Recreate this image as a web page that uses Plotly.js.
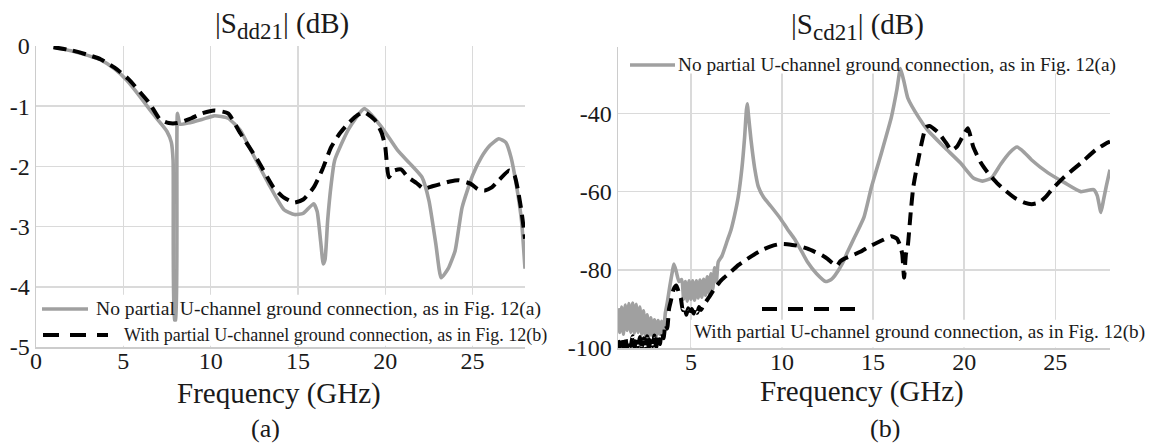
<!DOCTYPE html>
<html>
<head>
<meta charset="utf-8">
<script src="https://cdn.plot.ly/plotly-3.0.1.min.js"></script>
<style>html,body{margin:0;padding:0;background:#fff;}#chart{width:1153px;height:446px;}</style>
</head>
<body>
<div id="chart"></div>
<script>
// ---------- (a) |Sdd21| ----------
const freqA_noGround = [1, 2, 3, 3.7, 4.5, 5.2, 5.9, 6.55, 7.1, 7.5, 7.75, 7.85, 7.93, 8.0, 8.1, 8.25, 8.7, 9.5, 10.2, 11, 11.7, 12.3, 13.3, 14.2, 14.8, 15.3, 15.9, 16.1, 16.3, 16.45, 16.55, 16.7, 16.9, 17.1, 17.9, 18.8, 19.8, 20.7, 21.4, 22.1, 22.5, 22.9, 23.2, 23.6, 24.0, 24.4, 25.0, 25.5, 26.0, 26.5, 26.9, 27.2, 27.5, 27.8, 28];
const sdd21_noGround = [-0.02, -0.08, -0.16, -0.23, -0.38, -0.57, -0.82, -1.07, -1.27, -1.42, -1.6, -1.9, -4.55, -4.55, -1.12, -1.3, -1.28, -1.22, -1.16, -1.2, -1.4, -1.73, -2.28, -2.72, -2.8, -2.78, -2.62, -2.75, -3.25, -3.62, -3.55, -2.9, -2.3, -1.9, -1.38, -1.04, -1.35, -1.73, -1.95, -2.18, -2.57, -3.3, -3.85, -3.7, -3.4, -2.68, -2.15, -1.85, -1.65, -1.54, -1.6, -1.85, -2.3, -2.9, -3.7];

const freqA_withGround = [1, 2, 3, 3.7, 4.5, 5.3, 6.0, 6.5, 7.1, 7.6, 8.1, 8.9, 9.5, 10.2, 11, 11.7, 12.7, 13.6, 14.2, 14.8, 15.3, 15.9, 16.4, 16.9, 17.4, 17.9, 18.4, 18.8, 19.4, 19.8, 20.0, 20.2, 20.5, 20.9, 21.3, 21.8, 22.2, 22.7, 23.2, 23.7, 24.2, 24.9, 25.3, 25.7, 26.1, 26.5, 27.1, 27.4, 27.6, 27.8, 28];
const sdd21_withGround = [-0.02, -0.07, -0.15, -0.22, -0.36, -0.55, -0.78, -0.95, -1.22, -1.28, -1.28, -1.2, -1.12, -1.07, -1.12, -1.45, -1.9, -2.35, -2.52, -2.6, -2.55, -2.35, -2.05, -1.68, -1.45, -1.28, -1.15, -1.1, -1.23, -1.45, -1.68, -2.18, -2.07, -2.05, -2.18, -2.28, -2.37, -2.33, -2.29, -2.25, -2.23, -2.29, -2.38, -2.4, -2.35, -2.23, -2.07, -2.15, -2.4, -2.75, -3.2];

// ---------- (b) |Scd21| ----------
const freqB_noGround = [1.0,1.1,1.2,1.3,1.4,1.5,1.6,1.7,1.8,1.9,2.0,2.1,2.2,2.3,2.4,2.5,2.6,2.7,2.8,2.9,3.0,3.1,3.2,3.3,3.4,3.5,
  3.6,3.7,3.85,4.0,4.07,4.2,4.35,
  4.5,4.6,4.7,4.8,4.9,5.0,5.1,5.2,5.3,5.4,5.5,5.6,5.7,5.8,5.9,6.0,6.1,6.2,6.3,6.4,6.5,6.7,7.0,7.2,7.4,7.6,7.8,7.95,8.05,8.1,8.15,8.3,8.5,8.7,9.0,9.4,9.9,10.3,10.7,11.1,11.4,11.9,12.4,12.7,12.9,13.3,13.6,14.0,14.5,14.9,15.4,16.0,16.3,16.5,16.7,16.9,17.5,18.0,18.9,19.8,20.5,21.0,21.5,22.0,22.5,22.9,23.3,23.7,24.6,25.5,26.4,27.1,27.3,27.5,27.65,27.8,28.0];
const scd21_noGround = [-89.8,-96,-89.5,-96.5,-89,-95.5,-88.6,-96,-88.5,-96.2,-88.8,-96,-89.5,-96.5,-90.5,-96.8,-91.5,-97,-92.3,-96.8,-92.8,-97,-93,-96.5,-93.2,-95.5,
  -91,-88.5,-84,-80,-78.5,-80.5,-83,
  -82.5,-87.5,-83,-88,-82.8,-87.5,-82.8,-87.8,-82.8,-87.2,-82.6,-87,-82.4,-86.5,-81.8,-86,-81,-85,-79.5,-83,-78,-76.5,-72.5,-69.8,-66,-61.3,-54,-46,-39,-37.5,-40,-46.8,-54,-58.7,-61.5,-63.8,-66.8,-69.6,-72.2,-75.5,-78,-81,-83,-82.5,-81.5,-78.5,-75.4,-71.5,-66.5,-59,-51,-41,-34,-28.5,-32,-36,-41,-44.3,-48.6,-52.7,-56.5,-57.3,-56.5,-53,-50,-48.6,-50,-51.9,-55.2,-57.7,-60,-59.5,-61,-65.3,-62,-58.5,-54.4];

const freqB_withGround = [1.0,1.1,1.2,1.3,1.4,1.5,1.6,1.7,1.8,1.9,2.0,2.1,2.2,2.3,2.4,2.5,2.6,2.7,2.8,2.9,3.0,3.1,3.2,3.3,3.4,3.5,3.6,3.7,3.8,3.9,4.05,4.2,4.35,4.45,4.55,4.65,4.75,4.85,4.95,5.05,5.15,5.25,5.35,5.45,5.55,5.7,6.0,6.3,6.7,7.2,7.6,8.1,8.5,9.0,9.5,9.9,10.4,10.9,11.4,11.8,12.2,12.5,12.75,13.0,13.2,13.4,13.9,14.3,14.8,15.3,15.7,16.0,16.3,16.5,16.6,16.7,16.8,16.9,17.05,17.2,17.4,17.7,17.9,18.1,18.6,19.0,19.3,19.6,19.9,20.2,20.5,20.9,21.3,21.8,22.2,22.8,23.3,23.7,24.1,24.5,24.8,25.5,26.4,27.2,27.8,28.0];
const scd21_withGround = [-98,-100,-97.5,-99.8,-97.2,-100,-98,-99.5,-97,-100,-97.8,-99.6,-97.2,-100,-97.5,-99.8,-97,-100,-97.6,-99.5,-96.8,-99.8,-96.5,-99,-96,-97.5,-94,-95,-90,-88,-85,-84,-86,-87.3,-90.3,-89.5,-91.5,-89.8,-91.5,-90,-91.2,-89.8,-91,-89.5,-90.3,-89,-87,-84.8,-82.5,-80.5,-78.8,-77.2,-76,-74.7,-73.8,-73.4,-73.5,-73.9,-74.6,-75.4,-76.3,-77.2,-78.2,-79,-77.8,-77.2,-76.2,-75.4,-74,-72.9,-72,-71.4,-72,-74,-76,-82,-76,-74,-66,-59,-53.7,-46.8,-43.5,-43.2,-45,-47.5,-49.4,-48.5,-46,-43.8,-48.6,-52.5,-55.2,-57.8,-59.5,-61.7,-62.8,-63.2,-62.8,-61.2,-59.5,-56.2,-52.7,-49.4,-47.6,-47.2];

// ---------- ticks & labels ----------
const tickValsA_x = [0, 5, 10, 15, 20, 25];
const tickTextA_x = ['0', '5', '10', '15', '20', '25'];
const tickValsA_y = [0, -1, -2, -3, -4, -5];
const tickTextA_y = ['0', '-1', '-2', '-3', '-4', '-5'];
const tickValsB_x = [5, 10, 15, 20, 25];
const tickTextB_x = ['5', '10', '15', '20', '25'];
const tickValsB_y = [-40, -60, -80, -100];
const tickTextB_y = ['-40', '-60', '-80', '-100'];
const nameNo = 'No partial U-channel ground connection, as in Fig. 12(a)';
const nameWith = 'With partial U-channel ground connection, as in Fig. 12(b)';
const xAxisTitle = 'Frequency (GHz)';

const W = 1153, H = 446;
const px = v => v / W, py = v => 1 - v / H;
const FONT = 'Liberation Serif, Times New Roman, serif';
const INK = '#1a1a1a';
const GRAY = '#a0a0a0';
const GRID = '#dadada';

const grayLine = {color: GRAY, width: 3.6, shape: 'spline', smoothing: 0.5};
const blackLine = {color: '#000', width: 4, dash: '13px,7px', shape: 'spline', smoothing: 0.5};

const traces = [
  {x: freqA_noGround, y: sdd21_noGround, name: nameNo, type: 'scatter', mode: 'lines', line: grayLine, xaxis: 'x', yaxis: 'y', showlegend: false},
  {x: freqA_withGround, y: sdd21_withGround, name: nameWith, type: 'scatter', mode: 'lines', line: blackLine, xaxis: 'x', yaxis: 'y', showlegend: false},
  {x: freqB_noGround, y: scd21_noGround, name: nameNo, type: 'scatter', mode: 'lines', line: grayLine, xaxis: 'x2', yaxis: 'y2', showlegend: false},
  {x: freqB_withGround, y: scd21_withGround, name: nameWith, type: 'scatter', mode: 'lines', line: blackLine, xaxis: 'x2', yaxis: 'y2', showlegend: false}
];

const axCommon = {
  showgrid: true, gridcolor: GRID, gridwidth: 1.5, zeroline: false,
  showline: true, linecolor: '#cccccc', linewidth: 1.5, ticks: '',
  tickfont: {family: FONT, size: 24, color: INK}, automargin: false, fixedrange: true
};

const layout = {
  width: W, height: H,
  margin: {l: 0, r: 0, t: 0, b: 0},
  paper_bgcolor: '#fff', plot_bgcolor: '#fff',
  showlegend: false,
  xaxis: Object.assign({}, axCommon, {domain: [36 / W, 525 / W], range: [0, 28], tickmode: 'array', tickvals: tickValsA_x, ticktext: tickTextA_x, anchor: 'y', ticklabelstandoff: -8}),
  yaxis: Object.assign({}, axCommon, {domain: [1 - 347 / H, 1 - 46 / H], range: [-5, 0], tickmode: 'array', tickvals: tickValsA_y, ticktext: tickTextA_y, anchor: 'x'}),
  xaxis2: Object.assign({}, axCommon, {domain: [618 / W, 1110 / W], range: [1, 28], tickmode: 'array', tickvals: tickValsB_x, ticktext: tickTextB_x, anchor: 'y2', ticklabelstandoff: -8}),
  yaxis2: Object.assign({}, axCommon, {domain: [1 - 348 / H, 1 - 47 / H], range: [-100, -23], tickmode: 'array', tickvals: tickValsB_y, ticktext: tickTextB_y, anchor: 'x2'}),
  shapes: [
    // legend backgrounds, drawn between gridlines and traces
    {type: 'rect', xref: 'x', yref: 'y', x0: 0.1, x1: 28, y0: -4.98, y1: -4.13, fillcolor: '#fff', line: {width: 0}, layer: 'between'},
    {type: 'rect', xref: 'x2', yref: 'y2', x0: 5.0, x1: 28, y0: -99.9, y1: -92.8, fillcolor: '#fff', line: {width: 0}, layer: 'between'},
    {type: 'rect', xref: 'x2', yref: 'y2', x0: 1.15, x1: 28, y0: -29.8, y1: -23, fillcolor: '#fff', line: {width: 0}, layer: 'between'},
    // legend samples
    {type: 'line', xref: 'paper', yref: 'paper', x0: px(42), x1: px(88), y0: py(309), y1: py(309), line: {color: GRAY, width: 3.6}},
    {type: 'line', xref: 'paper', yref: 'paper', x0: px(43), x1: px(108), y0: py(335), y1: py(335), line: {color: '#000', width: 4, dash: '16px,11px'}},
    {type: 'line', xref: 'paper', yref: 'paper', x0: px(630), x1: px(675), y0: py(65), y1: py(65), line: {color: GRAY, width: 3.6}},
    {type: 'line', xref: 'paper', yref: 'paper', x0: px(762), x1: px(857), y0: py(309), y1: py(309), line: {color: '#000', width: 4, dash: '15px,11px'}}
  ],
  annotations: [
    {text: '|S<sub><span style="font-size:23px">dd21</span></sub>| (dB)', xref: 'paper', yref: 'paper', x: px(282), y: py(25), xanchor: 'center', yanchor: 'middle', showarrow: false, font: {family: FONT, size: 29, color: INK}},
    {text: '|S<sub><span style="font-size:23px">cd21</span></sub>| (dB)', xref: 'paper', yref: 'paper', x: px(857), y: py(27), xanchor: 'center', yanchor: 'middle', showarrow: false, font: {family: FONT, size: 29, color: INK}},
    {text: xAxisTitle, xref: 'paper', yref: 'paper', x: px(279), y: py(393), xanchor: 'center', yanchor: 'middle', showarrow: false, font: {family: FONT, size: 29, color: INK}},
    {text: xAxisTitle, xref: 'paper', yref: 'paper', x: px(862), y: py(391), xanchor: 'center', yanchor: 'middle', showarrow: false, font: {family: FONT, size: 29, color: INK}},
    {text: '(a)', xref: 'paper', yref: 'paper', x: px(265), y: py(428), xanchor: 'center', yanchor: 'middle', showarrow: false, font: {family: FONT, size: 26, color: INK}},
    {text: '(b)', xref: 'paper', yref: 'paper', x: px(885), y: py(428), xanchor: 'center', yanchor: 'middle', showarrow: false, font: {family: FONT, size: 26, color: INK}},
    {text: nameNo, xref: 'paper', yref: 'paper', x: px(94), y: py(309), xanchor: 'left', yanchor: 'middle', showarrow: false, font: {family: FONT, size: 19.6, color: INK}},
    {text: nameWith, xref: 'paper', yref: 'paper', x: px(122), y: py(335), xanchor: 'left', yanchor: 'middle', showarrow: false, font: {family: FONT, size: 18, color: INK}},
    {text: nameNo, xref: 'paper', yref: 'paper', x: px(676), y: py(65), xanchor: 'left', yanchor: 'middle', showarrow: false, font: {family: FONT, size: 19.3, color: INK}},
    {text: nameWith, xref: 'paper', yref: 'paper', x: px(692), y: py(332), xanchor: 'left', yanchor: 'middle', showarrow: false, font: {family: FONT, size: 19.2, color: INK}}
  ]
};

Plotly.newPlot('chart', traces, layout, {staticPlot: true, displayModeBar: false});
</script>
</body>
</html>
